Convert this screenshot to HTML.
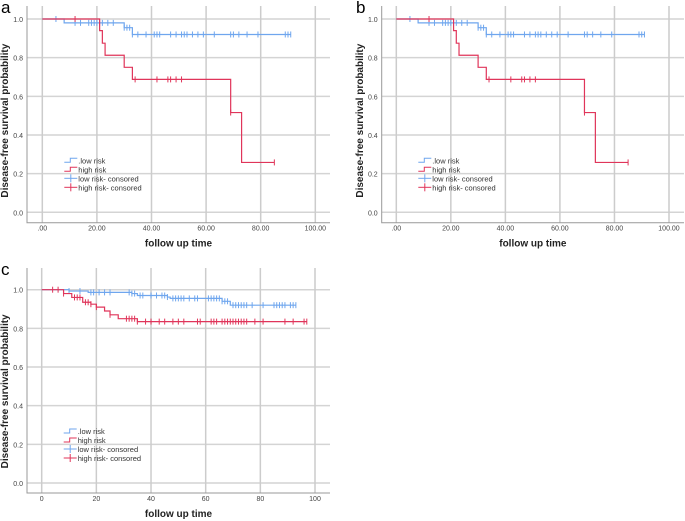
<!DOCTYPE html>
<html><head><meta charset="utf-8"><style>
body{margin:0;background:#fff;width:685px;height:521px;overflow:hidden}
svg{display:block;font-family:"Liberation Sans",sans-serif}
</style></head><body>
<svg id="s" width="685" height="521"></svg>
<script>
// Panel a/b data
const abLowTimes=[0,8,30,33,91];
const abLowSurv=[1.0,0.98,0.955,0.92,0.92];
const abLowCens=[5,12,14,17,18,19,20,21,22,24,26,30,31,32,33,35,38,41,42,43,47,49,51,52,53,55,57,59,63,69,70,72,75,79,89,90,91];
const abHighTimes=[0,21,22,23,30,33,69,73,85];
const abHighSurv=[1.0,0.94,0.875,0.8125,0.75,0.6875,0.516,0.258,0.258];
const abHighCens=[12,34,42,46,47,49,51,69,85];
const abXTicks=[".00","20.00","40.00","60.00","80.00","100.00"];
// Panel c data
const cLowTimes=[0,10,17,33,35,46,47,66,69,93];
const cLowSurv=[1.0,0.993,0.986,0.98,0.97,0.962,0.955,0.94,0.92,0.92];
const cLowCens=[10,14,18,19,21,23,25,32,33,34,36,37,40,42,44,45,46,48,49,50,51,52,54,56,57,61,62,63,64,65,66,67,68,70,71,72,73,74,75,77,81,85,86,87,88,89,91,92,93];
const cHighTimes=[0,8,11,15,18,20,23,25,28,35,97];
const cHighSurv=[1.0,0.98,0.96,0.935,0.925,0.91,0.89,0.87,0.85,0.835,0.835];
const cHighCens=[4,6,8,12,13,14,16,17,18,20,25,31,32,33,34,35,38,40,43,45,48,50,52,57,58,62,63,64,66,67,68,69,70,71,72,73,74,75,78,81,89,92,96,97];
const cXTicks=["0","20","40","60","80","100"];
const yTicks=[0,0.2,0.4,0.6,0.8,1.0];

const NS="http://www.w3.org/2000/svg";
const svg=document.getElementById('s');
function mk(tag,attrs,parent,text){const e=document.createElementNS(NS,tag);for(const k in attrs)e.setAttribute(k,attrs[k]);if(text!==undefined)e.textContent=text;(parent||svg).appendChild(e);return e;}

function panel(name,letter,ox,oy,x0,x100,y1,y0,frameL,frameB,frameR,xTicks,lowT,lowS,lowC,highT,highS,highC){
  const g=mk('g',{},svg);
  
  
  const X=v=>x0+(x100-x0)*v/100, Y=v=>y0+(y1-y0)*v;
  const lt=mk('text',{x:ox+1,y:oy+13,'font-size':17,fill:'#000'},g,letter);
  
  yTicks.forEach(t=>{const l=mk('line',{x1:frameL,x2:frameR,y1:Y(t),y2:Y(t),stroke:'#d4d4d4','stroke-width':1.5},g);
    
    const tx=mk('text',{x:frameL-4,y:Y(t)+3,'font-size':7,fill:'#444','text-anchor':'end'},g,t.toFixed(1));
    });
  xTicks.forEach((t,i)=>{const xv=X(i*20);const l=mk('line',{x1:xv,x2:xv,y1:oy+6,y2:frameB,stroke:'#cccccc','stroke-width':1.5},g);
    
    const tx=mk('text',{x:xv,y:frameB+8,'font-size':7,fill:'#444','text-anchor':'middle'},g,t);
    });
  const ax=mk('path',{d:`M${frameL} ${oy+6}V${frameB}H${frameR}`,stroke:'#999',fill:'none','stroke-width':1},g);
  
  const xl=mk('text',{x:(frameL+frameR)/2,y:frameB+24,'font-size':10,'font-weight':'bold','text-anchor':'middle',fill:'#222'},g,'follow up time');
  
  const yc=(Y(0)+Y(1))/2+5;
  const yl=mk('text',{x:0,y:0,'font-size':10,'font-weight':'bold','text-anchor':'middle',fill:'#222',transform:`translate(${ox+8},${yc}) rotate(-90)`},g,'Disease-free survival probability');
  
  function series(T,S,C,col,nm){
    let d=`M${X(T[0])} ${Y(S[0])}`;
    for(let i=1;i<T.length;i++){d+=`H${X(T[i])}V${Y(S[i])}`;}
    const p=mk('path',{d:d,stroke:col,fill:'none','stroke-width':1.2},g);
    
    C.forEach(c=>{let s=S[0];for(let i=0;i<T.length;i++)if(T[i]<=c)s=S[i];
      const m=mk('line',{x1:X(c),x2:X(c),y1:Y(s)-3,y2:Y(s)+3,stroke:col,'stroke-width':1},g);
      });
  }
  series(lowT,lowS,lowC,'#6fa6ee','low-risk');
  series(highT,highS,highC,'#e0355a','high-risk');
  const lx=X(0)+22, ly=Y(0.3)+6;
  const items=[['.low risk','#6fa6ee','step'],['high risk','#e0355a','step'],['low risk- consored','#6fa6ee','cross'],['high risk- consored','#e0355a','cross']];
  items.forEach((it,i)=>{const yy=ly+i*9;
    const e=mk('g',{},g);
    if(it[2]=='step')mk('path',{d:`M${lx} ${yy+2}H${lx+6}V${yy-2}H${lx+13}`,stroke:it[1],fill:'none','stroke-width':1},e);
    else{mk('line',{x1:lx,x2:lx+13,y1:yy,y2:yy,stroke:it[1]},e);mk('line',{x1:lx+6.5,x2:lx+6.5,y1:yy-4,y2:yy+4,stroke:it[1]},e);}
    mk('text',{x:lx+14,y:yy+3,'font-size':7.5,fill:'#333'},e,it[0]);});
}
panel('a','a',0,0,42.3,315.3,19,212.3,27,222.7,330,abXTicks,abLowTimes,abLowSurv,abLowCens,abHighTimes,abHighSurv,abHighCens);
panel('b','b',355,0,396.3,669,19,212.3,381.7,222.7,684,abXTicks,abLowTimes,abLowSurv,abLowCens,abHighTimes,abHighSurv,abHighCens);
panel('c','c',0,262,41.7,315,289.7,483,27,493,330,cXTicks,cLowTimes,cLowSurv,cLowCens,cHighTimes,cHighSurv,cHighCens);
</script>
</body></html>
